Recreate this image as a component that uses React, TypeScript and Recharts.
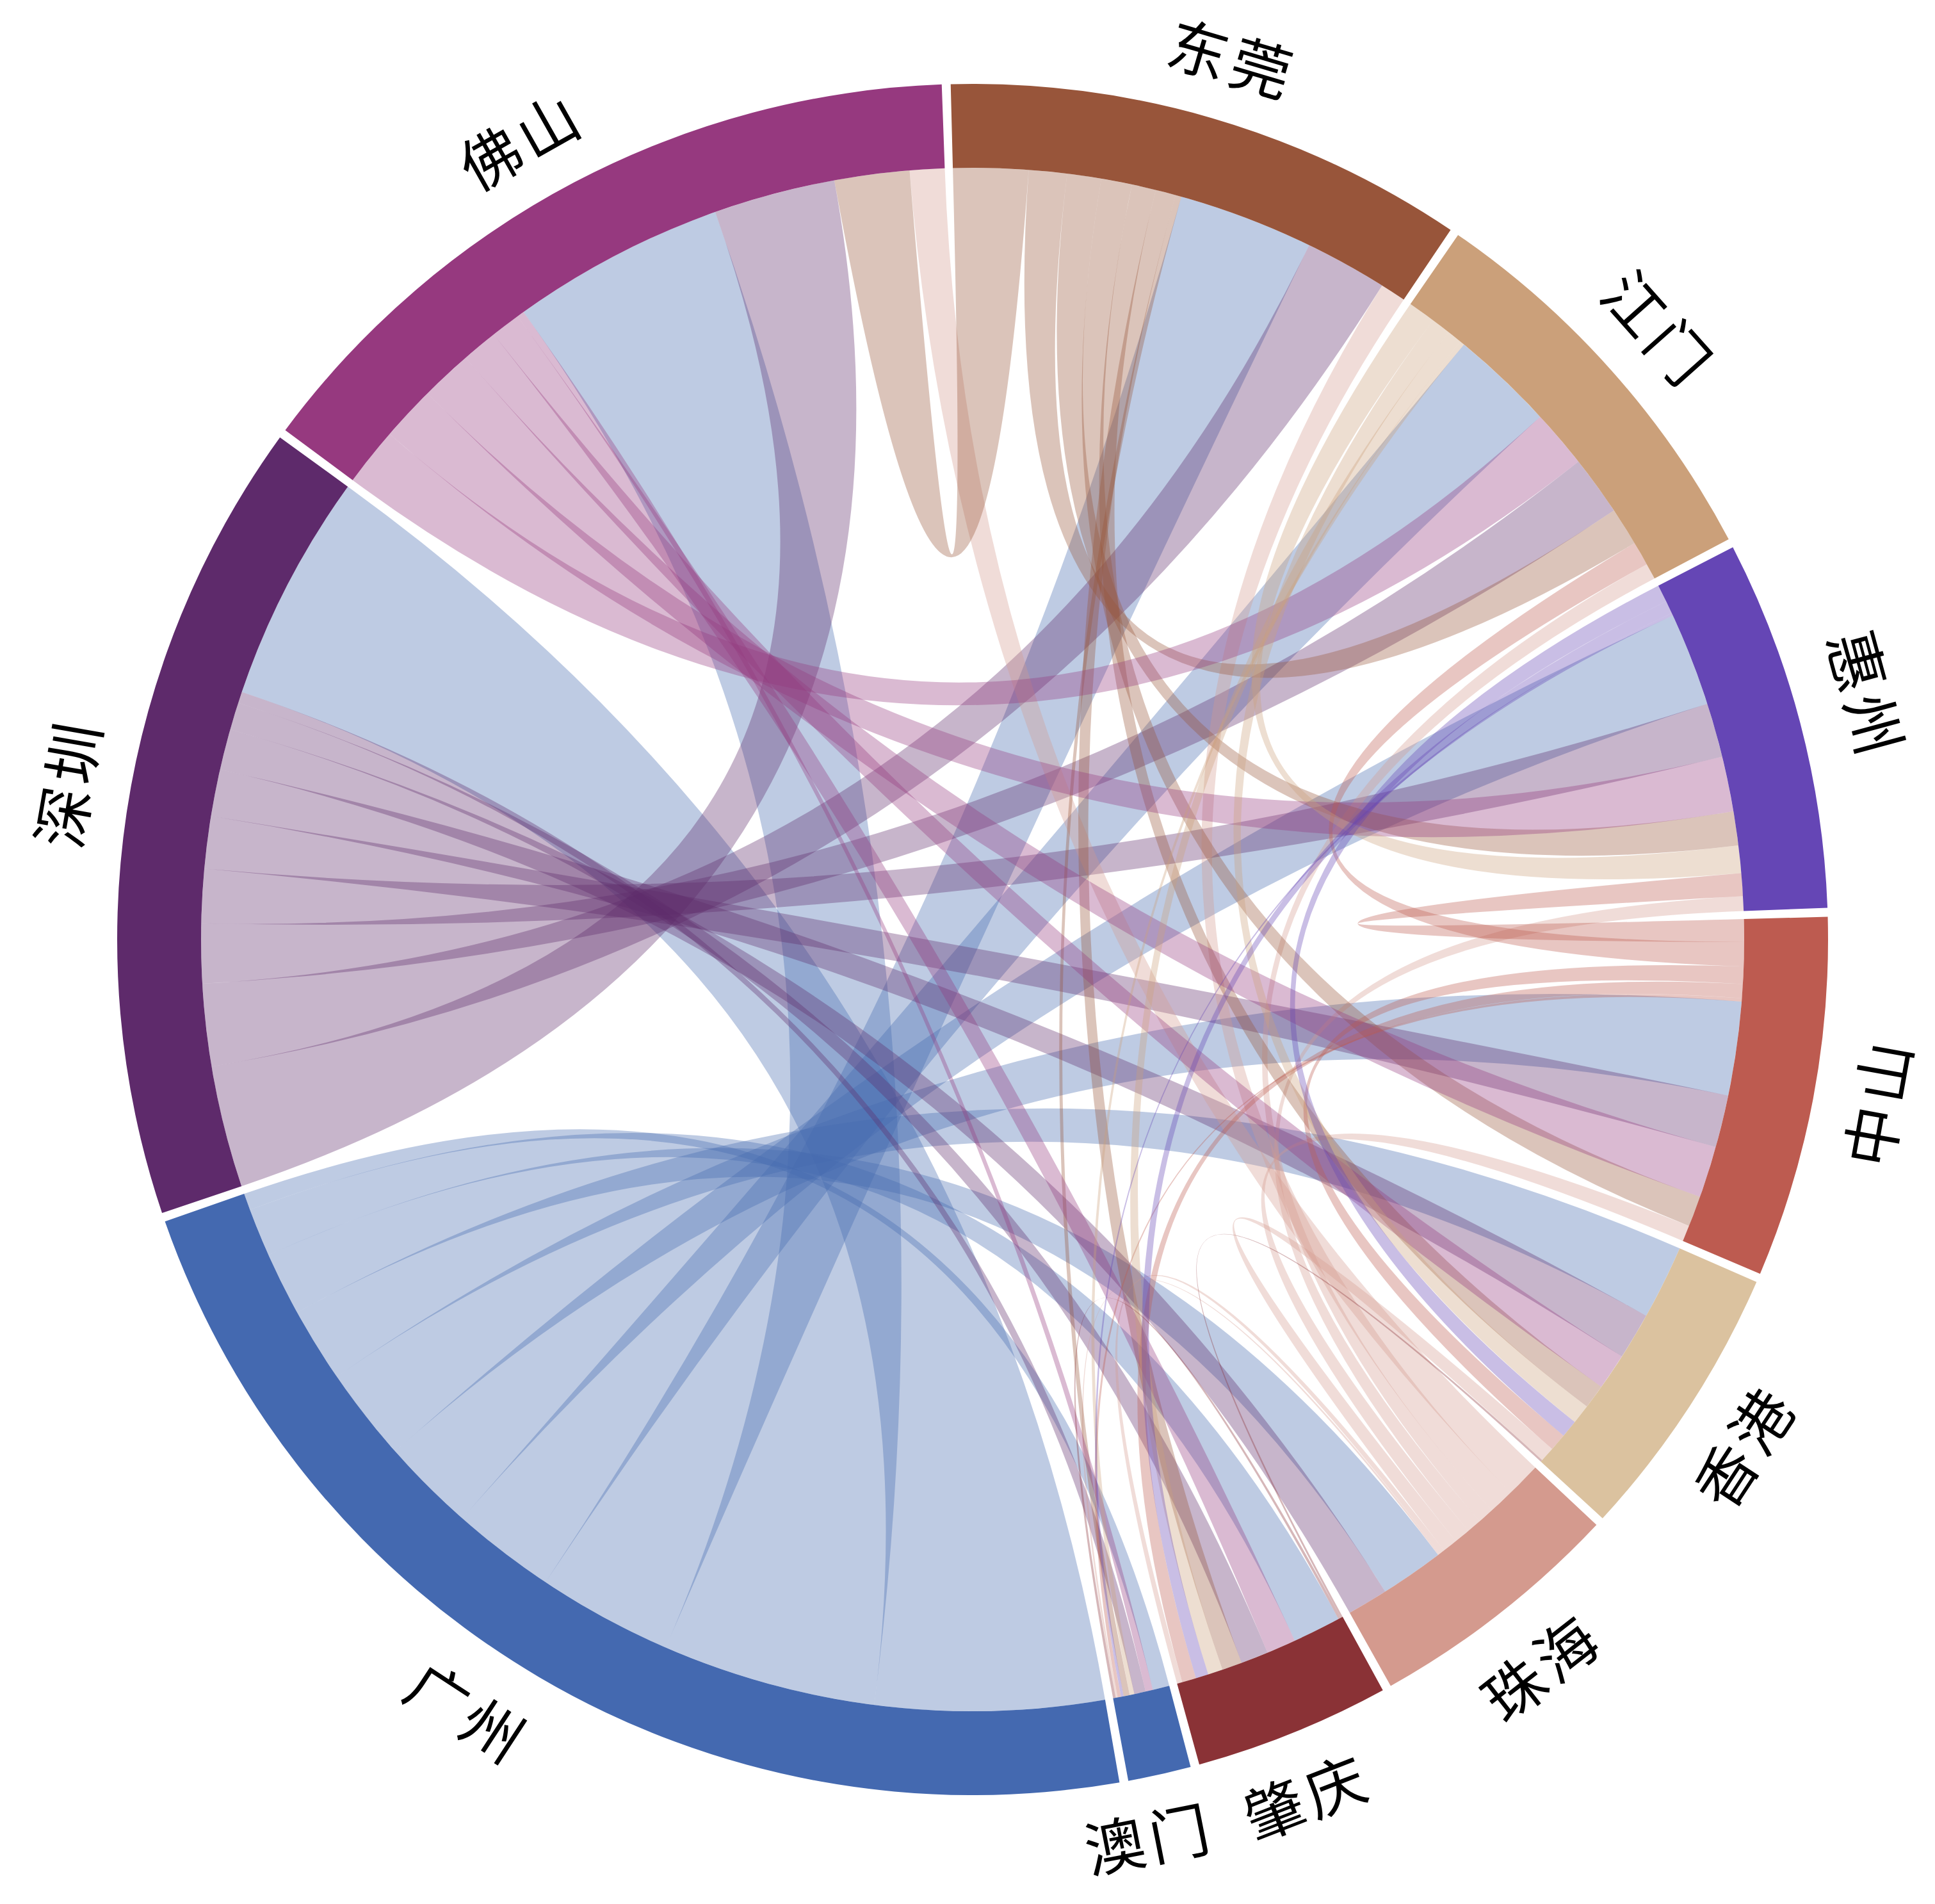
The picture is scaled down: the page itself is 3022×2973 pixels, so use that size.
import { Pie, PieChart } from "recharts"

const cities = ["东莞", "江门", "惠州", "中山", "香港", "珠海", "肇庆", "澳门", "广州", "深圳", "佛山"]
const ringColors = ["#98553A", "#CBA07A", "#6546B5", "#BD5B50", "#DBC29F", "#D49A8E", "#8A3236", "#4469B0", "#4469B0", "#5E2A6B", "#96397F"]
// nudge of each label along the ring, degrees
const labelShift = [0.2, 0, -0.6, -0.6, 0.2, 0, 0.7, 1.5, 2.7, 1.2, -1.7]
// radial nudge of each label, pixels
const labelPush = [0, 0, 14, -6, 0, 0, -6, -12, 0, 0, 0]

// each owner colours its own chords, listed clockwise on its arc
const flowOwners = ["广州", "深圳", "珠海", "东莞", "佛山", "中山", "江门", "惠州", "肇庆"]
const flowTargets = [
  ["深圳", "佛山", "东莞", "江门", "惠州", "中山", "香港", "珠海", "肇庆", "澳门"],
  ["佛山", "东莞", "江门", "惠州", "中山", "香港", "珠海", "肇庆", "澳门"],
  ["佛山", "东莞", "江门", "惠州", "中山", "香港", "肇庆", "澳门"],
  ["佛山", "江门", "惠州", "中山", "香港", "肇庆", "澳门"],
  ["江门", "惠州", "中山", "香港", "肇庆", "澳门"],
  ["惠州", "江门", "香港", "肇庆", "澳门"],
  ["惠州", "香港", "肇庆", "澳门"],
  ["香港", "肇庆", "澳门"],
  ["香港", "澳门"],
]
const flowValues = [
  [17.1, 16.0, 10.1, 7.75, 7.0, 7.0, 5.55, 4.75, 3.6, 1.25],
  [9.1, 6.15, 4.45, 4.05, 3.9, 3.5, 3.05, 2.05, 0.85],
  [2.6, 1.9, 1.2, 1.1, 1.2, 1.1, 0.4, 0.15],
  [5.6, 2.85, 2.55, 2.3, 1.8, 1.5, 0.45],
  [4.35, 4.1, 3.85, 2.7, 2.2, 0.55],
  [1.7, 1.8, 1.3, 1.05, 0.25],
  [2.05, 1.45, 1.1, 0.35],
  [1.3, 0.95, 0.2],
  [0.15, 0.2],
]

// chords owned by another city follow the own ones on the arc, in this order
const incomingOrder: Record<string, string[]> = {
  深圳: ["广州"],
  佛山: ["广州", "深圳", "东莞", "珠海"],
  东莞: ["广州", "深圳", "珠海"],
  江门: ["广州", "佛山", "深圳", "东莞", "中山", "珠海"],
  惠州: ["广州", "深圳", "佛山", "东莞", "江门", "中山", "珠海"],
  中山: ["广州", "深圳", "佛山", "东莞", "珠海"],
  香港: ["广州", "深圳", "佛山", "东莞", "江门", "惠州", "中山", "珠海", "肇庆"],
  珠海: ["广州", "深圳"],
  肇庆: ["广州", "佛山", "深圳", "东莞", "江门", "惠州", "中山", "珠海"],
  澳门: ["广州", "佛山", "深圳", "江门", "东莞", "惠州", "中山", "珠海", "肇庆"],
}

const CX = 1519
const CY = 1467
const INNER = 1205
const OUTER = 1336
const START = -1.47 // clockwise from north
const PAD = 0.6

const flowValue = (a: string, b: string) => {
  const i = flowOwners.indexOf(a)
  if (i >= 0 && flowTargets[i].includes(b)) return flowValues[i][flowTargets[i].indexOf(b)]
  const j = flowOwners.indexOf(b)
  return flowValues[j][flowTargets[j].indexOf(a)]
}

const arcOrder = (city: string) => {
  const i = flowOwners.indexOf(city)
  return [...(i >= 0 ? flowTargets[i] : []), ...(incomingOrder[city] || [])]
}

const totals = cities.map((c) => arcOrder(c).reduce((sum, p) => sum + flowValue(c, p), 0))
const ringData = cities.map((name, i) => ({ name, value: totals[i], fill: ringColors[i] }))

// same angle layout as the Pie, split per partner
const scale = (360 - cities.length * PAD) / totals.reduce((a, b) => a + b, 0)
const subArcs: Record<string, [number, number]> = {}
let cursor = START
cities.forEach((c) => {
  arcOrder(c).forEach((p) => {
    const end = cursor + flowValue(c, p) * scale
    subArcs[`${c}>${p}`] = [cursor, end]
    cursor = end
  })
  cursor += PAD
})

const pt = (deg: number) => {
  const a = (deg * Math.PI) / 180
  return `${(CX + INNER * Math.sin(a)).toFixed(2)} ${(CY - INNER * Math.cos(a)).toFixed(2)}`
}

const ribbon = (a: [number, number], b: [number, number]) =>
  `M${pt(a[0])}A${INNER} ${INNER} 0 0 1 ${pt(a[1])}Q${CX} ${CY} ${pt(b[0])}A${INNER} ${INNER} 0 0 1 ${pt(b[1])}Q${CX} ${CY} ${pt(a[0])}Z`

function Chords() {
  return (
    <g>
      {flowOwners.map((owner, i) =>
        flowTargets[i].map((target) => (
          <path
            key={owner + target}
            d={ribbon(subArcs[`${owner}>${target}`], subArcs[`${target}>${owner}`])}
            fill={ringColors[cities.indexOf(owner)]}
            fillOpacity={0.35}
            stroke="none"
          />
        ))
      )}
    </g>
  )
}

const cityLabel = (props: any) => {
  const idx = cities.indexOf(props.name)
  const theta = 90 - props.midAngle + labelShift[idx]
  const norm = ((theta % 360) + 360) % 360
  const a = (norm * Math.PI) / 180
  const r = 1438 + labelPush[idx]
  const x = CX + r * Math.sin(a)
  const y = CY - r * Math.cos(a)
  const rotate = norm > 90 && norm < 270 ? norm - 180 : norm
  return (
    <text
      x={x}
      y={y}
      textAnchor="middle"
      dominantBaseline="central"
      fontFamily="'Noto Sans CJK SC'"
      fontSize={94}
      letterSpacing={8}
      fill="#000"
      transform={`rotate(${rotate} ${x} ${y})`}
    >
      {props.name}
    </text>
  )
}

export default function App() {
  return (
    <div style={{ position: "absolute", left: 0, top: 0, background: "#fff" }}>
      <PieChart width={3022} height={2973} margin={{ top: 0, right: 0, bottom: 0, left: 0 }}>
        <Chords />
        <Pie
          data={ringData}
          dataKey="value"
          nameKey="name"
          cx={CX}
          cy={CY}
          innerRadius={INNER}
          outerRadius={OUTER}
          startAngle={90 - START}
          endAngle={90 - START - 360}
          paddingAngle={PAD}
          stroke="none"
          label={cityLabel}
          labelLine={false}
          isAnimationActive={false}
        />
      </PieChart>
    </div>
  )
}
